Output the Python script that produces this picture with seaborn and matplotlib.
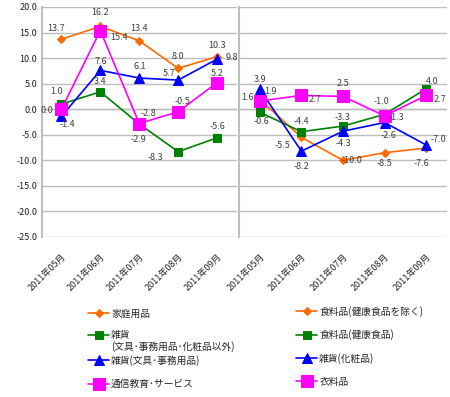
import matplotlib
matplotlib.use("Agg")
import matplotlib.pyplot as plt
import seaborn as sns
import pandas as pd

sns.set_theme(style="white")
plt.rcParams['font.family'] = ['Noto Sans CJK JP', 'DejaVu Sans']

months = ["2011年05月", "2011年06月", "2011年07月", "2011年08月", "2011年09月"]

left_names = ["家庭用品", "雑貨", "雑貨(文具･事務用品)", "通信教育･サービス"]
left_name2_extra = "(文具･事務用品･化粧品以外)"
left_home = [13.7, 16.2, 13.4, 8.0, 10.3]
left_misc = [1.0, 3.4, -2.9, -8.3, -5.6]
left_stationery = [-1.4, 7.6, 6.1, 5.7, 9.8]
left_education = [0.0, 15.4, -2.8, -0.5, 5.2]

right_names = ["食料品(健康食品を除く)", "食料品(健康食品)", "雑貨(化粧品)", "衣料品"]
right_food = [1.9, -5.5, -10.0, -8.5, -7.6]
right_health = [-0.6, -4.4, -3.3, -1.0, 4.0]
right_cosmetics = [3.9, -8.2, -4.3, -2.6, -7.0]
right_clothing = [1.6, 2.7, 2.5, -1.3, 2.7]

yticks = [20, 15, 10, 5, 0, -5, -10, -15, -20, -25]

# styles
colors = ["#FF6A00", "#008000", "#0000FF", "#FF00FF"]
markers = ["D", "s", "^", "s"]
msizes = [4, 5.5, 6.5, 8.5]

# label offsets (points) per series per point
left_offsets = [
    [(-3.6, 7.9), (0, 10), (0, 8.6), (0, 8.6), (0, 8)],
    [(-3.6, 9.4), (0, 7.2), (-0.7, -10.8), (-16.5, -4.3), (0, 8)],
    [(4.3, -5.5), (0, 6.5), (0, 8.6), (-6.5, 5), (10.8, 1.4)],
    [(-10.8, -0.7), (13.7, -5), (6.5, 7.2), (2.9, 7.5), (0, 6.5)],
]
right_offsets = [
    [(7.9, 5.8), (-13.7, -5.8), (6.5, 0), (0, -7.6), (-3.6, -10.8)],
    [(1.4, -6.5), (0, 7.6), (0, 6.5), (-2, 9.4), (4.3, 5.4)],
    [(0, 7.2), (0, -10.8), (0, -8.6), (3, -9.4), (8.6, 4.3)],
    [(-8.6, 2.9), (9.4, -2.9), (0, 9.4), (8.6, -1.4), (9.6, -2.9)],
]

fig = plt.figure(figsize=(4.5, 3.97), dpi=100)
W, H = 450, 397
ax1 = fig.add_axes([42 / W, 1 - 237 / H, (236.5 - 42) / W, 230 / H])
ax2 = fig.add_axes([239 / W, 1 - 237 / H, (447 - 239) / W, 230 / H], sharey=ax1)

label_color = "#404040"

def draw(ax, names, series, offsets):
    for i, (name, vals) in enumerate(zip(names, series)):
        df = pd.DataFrame({"month": months, "value": vals})
        sns.lineplot(data=df, x="month", y="value", ax=ax, color=colors[i],
                     marker=markers[i], markersize=msizes[i], markeredgecolor=colors[i],
                     linewidth=1.2, sort=False, label=name, legend=False)
        for j, v in enumerate(vals):
            dx, dy = offsets[i][j]
            ax.annotate(f"{v:.1f}", (j, v), xytext=(dx, dy), textcoords="offset points",
                        ha="center", va="center", fontsize=6.5, color=label_color)
    return ax.get_lines()

h1 = draw(ax1, left_names, [left_home, left_misc, left_stationery, left_education], left_offsets)
h2 = draw(ax2, right_names, [right_food, right_health, right_cosmetics, right_clothing], right_offsets)

for ax in (ax1, ax2):
    ax.set_ylim(-25, 20)
    ax.set_xlim(-0.5, 4.5)
    ax.set_yticks(yticks)
    ax.yaxis.grid(True, color="#BEBEBE", linewidth=1)
    ax.set_axisbelow(True)
    ax.set_xlabel("")
    ax.set_ylabel("")
    for s in ["top", "right", "bottom"]:
        ax.spines[s].set_visible(False)
    ax.spines["left"].set_color("#BEBEBE")
    ax.spines["left"].set_linewidth(1.5)
    ax.set_xticks(range(len(months)))
    ax.set_xticklabels(months, rotation=45, ha="right", rotation_mode="anchor", fontsize=6.5)
    ax.tick_params(axis="x", length=0, pad=11)
    ax.tick_params(axis="y", length=0, labelsize=6.5, colors="#222222")
    ax.axhline(0, color="#BEBEBE", linewidth=1, zorder=0)

ax1.set_yticklabels([f"{t:.1f}" for t in yticks])
ax2.tick_params(axis="y", labelleft=False)

h1 = list(h1)
leg_kw = dict(loc="upper left", frameon=False, fontsize=7, handlelength=2.2,
              handletextpad=0.2, borderaxespad=0)
leg1a = fig.legend(handles=h1[:2], labels=left_names[:2],
                   bbox_to_anchor=(84 / W, 1 - 305 / H), labelspacing=1.15, **leg_kw)
leg1b = fig.legend(handles=h1[2:], labels=left_names[2:],
                   bbox_to_anchor=(84 / W, 1 - 351 / H), labelspacing=1.35, **leg_kw)
leg2 = fig.legend(handles=list(h2), labels=right_names,
                  bbox_to_anchor=(292 / W, 1 - 302 / H), labelspacing=1.3, **leg_kw)
fig.canvas.draw()
# second line of the wrapped legend label, aligned under its first line
t2 = leg1a.get_texts()[1]
bb = t2.get_window_extent()
fig.text(bb.x0 / W, (bb.y0 - 12) / H, left_name2_extra, fontsize=7,
         ha="left", va="bottom", color=t2.get_color())

fig.savefig("out.png", dpi=100)
